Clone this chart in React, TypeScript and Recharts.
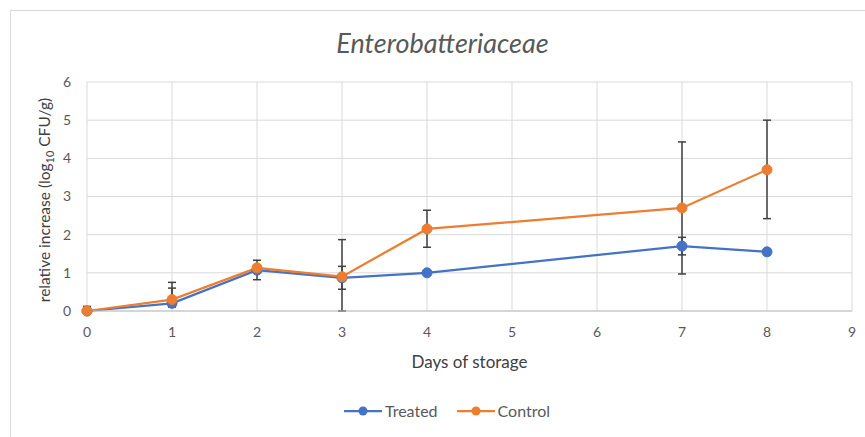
import React from 'react';
import { LineChart, Line, XAxis, YAxis, CartesianGrid, ErrorBar } from 'recharts';

// days sampled
const days = [0, 1, 2, 3, 4, 7, 8];
const treated = [0, 0.2, 1.07, 0.87, 1.0, 1.7, 1.55];
const control = [0, 0.3, 1.13, 0.9, 2.15, 2.7, 3.7];
// error bars as [minus, plus]
const treatedErr = [[0, 0.12], [0.1, 0.4], [0.25, 0.1], [0.3, 0.3], [0, 0], [0.23, 0.23], [0, 0]];
const controlErr = [[0, 0.1], [0.1, 0.45], [0.1, 0.2], [0.9, 0.97], [0.48, 0.49], [1.73, 1.73], [1.28, 1.3]];

const xTicks = [0, 1, 2, 3, 4, 5, 6, 7, 8, 9];
const yTicks = [0, 1, 2, 3, 4, 5, 6];

const BLUE = '#4472c4';
const ORANGE = '#ed7d31';
const FONT = 'Lato, "Open Sans", sans-serif';

const data = days.map((d, i) => ({
    day: d,
    treated: treated[i],
    control: control[i],
    treatedErr: treatedErr[i],
    controlErr: controlErr[i],
}));

const YLabel = () => (
    <text
        x={0}
        y={0}
        transform="translate(50,200) rotate(-90)"
        textAnchor="middle"
        fill="#404040"
        fontSize={15.5}
        fontFamily={FONT}
    >
        relative increase (log
        <tspan fontSize={11} dy={4}>10</tspan>
        <tspan dy={-4}> CFU/g)</tspan>
    </text>
);

const legendItems = [
    { label: 'Treated', color: BLUE },
    { label: 'Control', color: ORANGE },
];

export default function App() {
    return (
        <div style={{ position: 'absolute', left: 0, top: 0, width: 865, height: 437, overflow: 'hidden', background: '#fff' }}>
            <div style={{ position: 'absolute', left: 10, top: 10, width: 900, height: 500, border: '1px solid #d9d9d9' }} />
            <div style={{ position: 'absolute', left: 0, top: 26, width: 885, textAlign: 'center', fontFamily: FONT, fontStyle: 'italic', fontSize: 27, color: '#595959' }}>
                Enterobatteriaceae
            </div>
            <div style={{ position: 'absolute', left: 0, top: 0 }}>
                <LineChart width={865} height={437} data={data} margin={{ top: 82, right: 13, bottom: 96, left: 57 }}>
                    <CartesianGrid stroke="#d9d9d9" strokeWidth={1} />
                    <XAxis
                        dataKey="day"
                        type="number"
                        domain={[0, 9]}
                        ticks={xTicks}
                        interval={0}
                        tickLine={false}
                        tickMargin={10}
                        axisLine={{ stroke: '#bfbfbf' }}
                        tick={{ fill: '#595959', fontSize: 14, fontFamily: FONT }}
                        label={{ value: 'Days of storage', position: 'insideBottom', offset: -27, fill: '#404040', fontSize: 17, fontFamily: FONT }}
                    />
                    <YAxis
                        type="number"
                        domain={[0, 6]}
                        ticks={yTicks}
                        width={30}
                        tickLine={false}
                        axisLine={false}
                        tickMargin={10}
                        tick={{ fill: '#595959', fontSize: 14, fontFamily: FONT }}
                        label={<YLabel />}
                    />
                    <Line
                        dataKey="treated"
                        stroke={BLUE}
                        strokeWidth={2.25}
                        dot={{ r: 5, fill: BLUE, stroke: BLUE, strokeWidth: 1 }}
                        activeDot={false}
                        isAnimationActive={false}
                    >
                        <ErrorBar dataKey="treatedErr" stroke="#404040" strokeWidth={1.5} width={4} direction="y" />
                    </Line>
                    <Line
                        dataKey="control"
                        stroke={ORANGE}
                        strokeWidth={2.25}
                        dot={{ r: 5, fill: ORANGE, stroke: ORANGE, strokeWidth: 1 }}
                        activeDot={false}
                        isAnimationActive={false}
                    >
                        <ErrorBar dataKey="controlErr" stroke="#404040" strokeWidth={1.5} width={4} direction="y" />
                    </Line>
                </LineChart>
            </div>
            <div style={{ position: 'absolute', left: 0, top: 401, width: 893, display: 'flex', justifyContent: 'center', gap: 18, fontFamily: FONT, fontSize: 16, color: '#595959' }}>
                {legendItems.map((it) => (
                    <div key={it.label} style={{ display: 'flex', alignItems: 'center' }}>
                        <svg width={40} height={12}>
                            <line x1={1} y1={6} x2={39} y2={6} stroke={it.color} strokeWidth={2.25} />
                            <circle cx={20} cy={6} r={4.5} fill={it.color} />
                        </svg>
                        <span style={{ marginLeft: 2 }}>{it.label}</span>
                    </div>
                ))}
            </div>
        </div>
    );
}
